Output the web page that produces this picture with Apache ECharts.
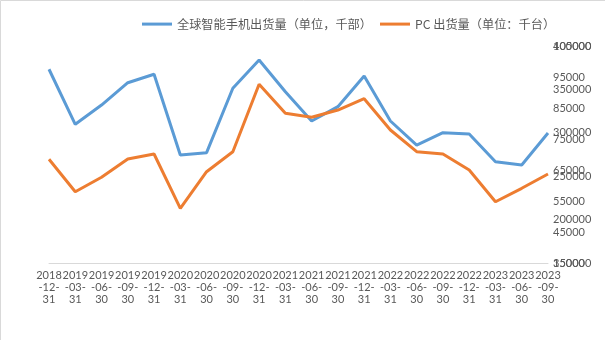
<!DOCTYPE html>
<html><head><meta charset="utf-8">
<script src="https://cdn.jsdelivr.net/npm/echarts@6/dist/echarts.min.js"></script>
<style>html,body{margin:0;padding:0;background:#fff;}#c{width:605px;height:340px;}</style>
</head><body><div id="c"></div>
<script>
const categories = ["2018-12-31","2019-03-31","2019-06-30","2019-09-30","2019-12-31","2020-03-31","2020-06-30","2020-09-30","2020-12-31","2021-03-31","2021-06-30","2021-09-30","2021-12-31","2022-03-31","2022-06-30","2022-09-30","2022-12-31","2023-03-31","2023-06-30","2023-09-30"];
const phoneName = "全球智能手机出货量（单位，千部）";
const pcName = "PC 出货量（单位：千台）";
const phoneValues = [373200, 309800, 332000, 357700, 367400, 274400, 277100, 351300, 383900, 347300, 313600, 330100, 365400, 313600, 285900, 300100, 298600, 266700, 262900, 299800];
const pcValues = [68450, 58000, 62650, 68550, 70160, 52650, 64450, 70900, 92650, 83290, 82000, 84350, 88000, 77900, 70900, 70160, 65000, 54770, 59100, 63710];
const phoneAxis = {min: 150000, max: 400000, interval: 50000};
const pcAxis = {min: 35000, max: 105000, interval: 10000};

const chart = echarts.init(document.getElementById('c'));
const lblFont = {color: '#595959', fontSize: 11, fontFamily: 'Lato'};
chart.setOption({
  animation: false,
  graphic: [{type: 'rect', shape: {x: 0.5, y: 0.5, width: 700, height: 500}, style: {fill: 'none', stroke: '#d9d9d9', lineWidth: 1}, silent: true}],
  legend: {
    top: 13, left: 137, itemWidth: 30, itemHeight: 3, itemGap: 8, icon: 'rect',
    textStyle: {color: '#595959', fontSize: 12.2, fontFamily: 'Noto Sans CJK SC'},
    data: [phoneName, pcName]
  },
  grid: {left: 49, right: 57, top: 46, bottom: 77},
  xAxis: {
    type: 'category', data: categories, boundaryGap: false,
    axisLine: {lineStyle: {color: '#d9d9d9', width: 1}},
    axisTick: {show: false},
    axisLabel: Object.assign({interval: 0, margin: 6, lineHeight: 12,
      formatter: v => v.slice(0,4) + '\n' + v.slice(4,8) + '\n' + v.slice(8)}, lblFont)
  },
  yAxis: [
    Object.assign({type: 'value', position: 'right', splitLine: {show: false}, axisLine: {show: false}, axisTick: {show: false},
      axisLabel: Object.assign({margin: 5, formatter: v => String(v)}, lblFont)}, phoneAxis),
    Object.assign({type: 'value', position: 'right', splitLine: {show: false}, axisLine: {show: false}, axisTick: {show: false},
      axisLabel: Object.assign({margin: 5, formatter: v => String(v)}, lblFont)}, pcAxis)
  ],
  series: [
    {name: phoneName, type: 'line', yAxisIndex: 0, data: phoneValues, showSymbol: false, symbol: 'none',
     lineStyle: {color: '#5b9bd5', width: 3}, itemStyle: {color: '#5b9bd5'}},
    {name: pcName, type: 'line', yAxisIndex: 1, data: pcValues, showSymbol: false, symbol: 'none',
     lineStyle: {color: '#ed7d31', width: 3}, itemStyle: {color: '#ed7d31'}}
  ]
});
</script></body></html>
